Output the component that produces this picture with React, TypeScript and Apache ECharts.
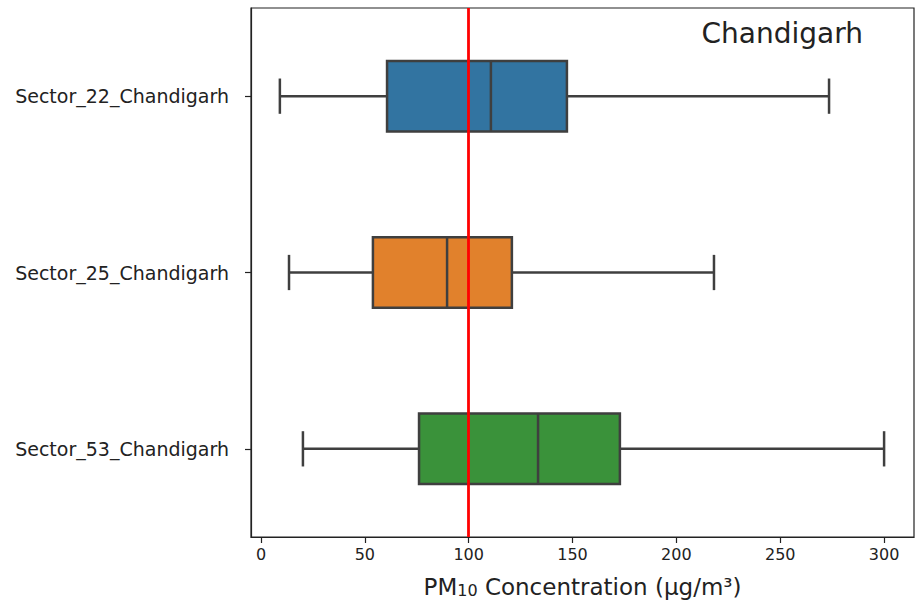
import React, { useEffect, useRef } from "react";
import * as echarts from "echarts";

const categories = ["Sector_22_Chandigarh", "Sector_25_Chandigarh", "Sector_53_Chandigarh"];
const whiskerLow = [9.1, 13.5, 20.2];
const q1 = [60.7, 53.9, 76.1];
const median = [110.7, 89.6, 133.4];
const q3 = [147.3, 120.8, 172.8];
const whiskerHigh = [273.5, 218.1, 300];
const boxColors = ["#3274a1", "#e1812c", "#3a923a"];
const xTicks = [0, 50, 100, 150, 200, 250, 300];
const limitValue = 100;

export default function App() {
  const ref = useRef<HTMLDivElement>(null);
  useEffect(() => {
    if (!ref.current) return;
    const chart = echarts.init(ref.current, null, { renderer: "svg" });
    const data = categories.map((_, i) => [i, whiskerLow[i], q1[i], median[i], q3[i], whiskerHigh[i]]);
    const edge = "#3f3f3f";
    chart.setOption({
      animation: false,
      textStyle: { fontFamily: "DejaVu Sans" },
      title: {
        text: "Chandigarh",
        right: 53,
        top: 19,
        padding: 0,
        textStyle: { fontFamily: "DejaVu Sans", fontSize: 28, fontWeight: "normal", color: "#222" },
      },
      grid: {
        left: 251,
        top: 8,
        width: 663,
        height: 529,
        containLabel: false,
        outerBoundsMode: "none",
        show: true,
        borderColor: "#222",
        borderWidth: 1.2,
        backgroundColor: "transparent",
      },
      xAxis: {
        type: "value",
        min: -4.8,
        max: 314.4,
        splitLine: { show: false },
        axisLine: { show: true, onZero: false, lineStyle: { color: "#222", width: 1.2 } },
        axisTick: { show: true, customValues: xTicks, length: 6, lineStyle: { color: "#222", width: 1.2 } },
        axisLabel: { customValues: xTicks, color: "#222", fontSize: 16, margin: 9, fontFamily: "DejaVu Sans" },
        name: "PM{sub|10} Concentration (\u03bcg/m\u00b3)",
        nameLocation: "middle",
        nameGap: 38,
        nameTextStyle: {
          fontSize: 23,
          color: "#222",
          fontFamily: "DejaVu Sans",
          rich: {
            sub: { fontSize: 16, color: "#222", fontFamily: "DejaVu Sans", padding: [7, 0, 0, 0] },
          },
        },
      },
      yAxis: {
        type: "category",
        data: categories,
        inverse: true,
        axisLine: { show: true, onZero: false, lineStyle: { color: "#222", width: 1.2 } },
        axisTick: { show: true, alignWithLabel: true, length: 6, lineStyle: { color: "#222", width: 1.2 } },
        axisLabel: { color: "#222", fontSize: 19, margin: 22, fontFamily: "DejaVu Sans" },
        splitLine: { show: false },
      },
      series: [
        {
          type: "custom",
          data,
          encode: { x: [1, 2, 3, 4, 5], y: 0 },
          renderItem: (params: any, api: any) => {
            const cat = api.value(0);
            const lo = api.coord([api.value(1), cat]);
            const a = api.coord([api.value(2), cat]);
            const m = api.coord([api.value(3), cat]);
            const b = api.coord([api.value(4), cat]);
            const hi = api.coord([api.value(5), cat]);
            const band = api.size([0, 1])[1];
            const bh = band * 0.4;
            const ch = band * 0.2;
            const cy = a[1];
            const ls = { stroke: edge, lineWidth: 2.5 };
            return {
              type: "group",
              children: [
                { type: "line", shape: { x1: lo[0], y1: cy, x2: a[0], y2: cy }, style: ls },
                { type: "line", shape: { x1: b[0], y1: cy, x2: hi[0], y2: cy }, style: ls },
                { type: "line", shape: { x1: lo[0], y1: cy - ch / 2, x2: lo[0], y2: cy + ch / 2 }, style: ls },
                { type: "line", shape: { x1: hi[0], y1: cy - ch / 2, x2: hi[0], y2: cy + ch / 2 }, style: ls },
                {
                  type: "rect",
                  shape: { x: a[0], y: cy - bh / 2, width: b[0] - a[0], height: bh },
                  style: { fill: boxColors[params.dataIndex], stroke: edge, lineWidth: 2.5 },
                },
                { type: "line", shape: { x1: m[0], y1: cy - bh / 2, x2: m[0], y2: cy + bh / 2 }, style: ls },
              ],
            };
          },
          markLine: {
            silent: true,
            symbol: "none",
            label: { show: false },
            lineStyle: { color: "#ff0000", width: 2.8, type: "solid" },
            data: [{ xAxis: limitValue }],
            z: 10,
          },
          z: 2,
        },
      ],
    });
    return () => chart.dispose();
  }, []);
  return (
    <div
      ref={ref}
      style={{ position: "absolute", left: 0, top: 0, width: 916, height: 608 }}
    />
  );
}
